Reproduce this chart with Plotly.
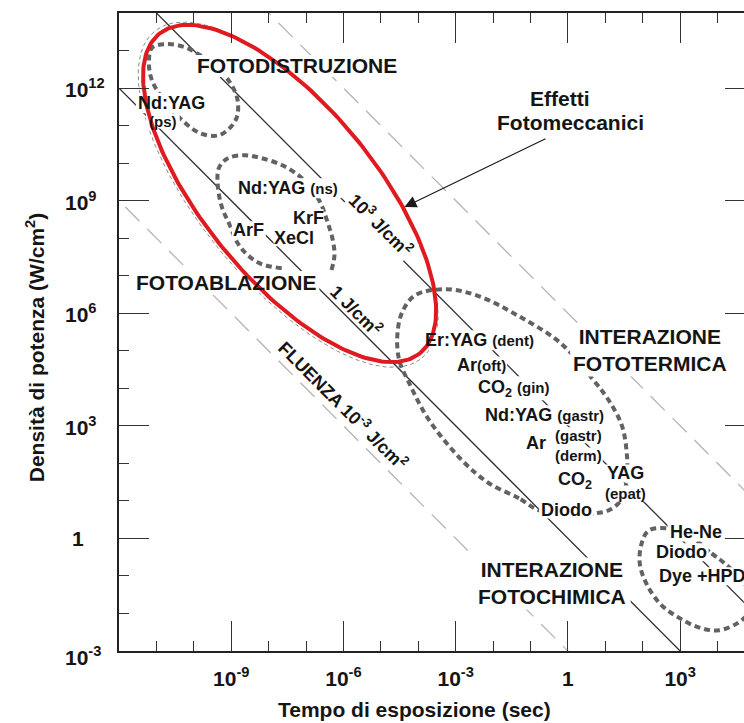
import numpy as np
import plotly.graph_objects as go

# ---------------------------------------------------------------- data
# axis extents, log10 units
T_RANGE = [-12, 5]        # exposure time (s)
P_RANGE = [-3, 14]        # power density (W/cm^2)

# iso-fluence lines  P * t = F  (J/cm^2)
FLUENCE_SOLID = [1.0, 1e3]
FLUENCE_DASHED = [1e-3, 1e6]

# tick labels
X_TICKVALS = [1e-9, 1e-6, 1e-3, 1, 1e3]
X_TICKTEXT = ["10<sup>-9</sup>", "10<sup>-6</sup>", "10<sup>-3</sup>", "1", "10<sup>3</sup>"]
Y_TICKVALS = [1e-3, 1, 1e3, 1e6, 1e9, 1e12]
Y_TICKTEXT = ["10<sup>-3</sup>", "1", "10<sup>3</sup>", "10<sup>6</sup>", "10<sup>9</sup>", "10<sup>12</sup>"]

# laser regions, outline vertices as (log10 t, log10 P)
REGION_PS = [(-10.77, 11.63), (-11.12, 12.21), (-11.20, 12.69), (-11.12, 13.07), (-10.72, 13.17),
             (-10.24, 13.09), (-9.84, 12.88), (-9.44, 12.61), (-9.04, 12.16), (-8.83, 11.68),
             (-8.88, 11.15), (-9.31, 10.75), (-9.84, 10.80), (-10.32, 11.15), (-10.77, 11.63)]
REGION_NS = [(-7.65, 7.20), (-8.19, 7.31), (-8.56, 7.55), (-8.83, 7.87), (-9.04, 8.35),
             (-9.25, 8.83), (-9.36, 9.41), (-9.33, 9.87), (-9.09, 10.13), (-8.64, 10.21),
             (-8.19, 10.13), (-7.65, 9.95), (-7.17, 9.65), (-6.83, 9.29), (-6.59, 8.89),
             (-6.43, 8.44), (-6.29, 7.97), (-6.24, 7.55), (-6.32, 7.15)]
REGION_THERMAL = [(-0.77, 0.75), (-1.31, 1.07), (-2.11, 1.47), (-2.83, 2.08), (-3.71, 3.15),
                  (-4.24, 4.13), (-4.51, 4.75), (-4.56, 5.41), (-4.43, 6.03), (-4.08, 6.48),
                  (-3.25, 6.64), (-2.37, 6.45), (-1.31, 5.92), (-0.19, 5.20), (0.64, 4.27),
                  (1.09, 3.68), (1.44, 3.01), (1.57, 2.29), (1.57, 1.55), (1.41, 1.01),
                  (1.09, 0.75), (0.75, 0.67), (0.16, 0.61), (-0.77, 0.75)]
REGION_CHEM = [(3.23, 0.08), (3.84, -0.40), (4.16, -0.64), (4.61, -1.07), (4.88, -1.52),
               (4.83, -1.97), (4.56, -2.24), (4.03, -2.45), (3.49, -2.37), (2.96, -2.11),
               (2.48, -1.76), (2.11, -1.23), (1.92, -0.67), (1.97, -0.13), (2.16, 0.21),
               (2.64, 0.27), (3.23, 0.08)]

# photomechanical zone: ellipse centre (log10 t, log10 P), semi-axes (decades), tilt (deg)
MECH_CENTER = (-7.44, 9.19)
MECH_AXES = (5.50, 2.30)
MECH_TILT = -50.6

# in-plot labels: text, log10 t, log10 P, font size, backing box w, h (px)
SM = '<span style="font-size:15px">{}</span>'
LABELS = [
    ("FOTODISTRUZIONE", -7.25, 12.59, 21, 212, 22),
    ("Nd:YAG", -10.59, 11.60, 18, 72, 20),
    ("(ps)", -10.83, 11.12, 15, 34, 15),
    ("Nd:YAG " + SM.format("(ns)"), -7.49, 9.33, 18, 108, 20),
    ("KrF", -6.93, 8.53, 18, 30, 18),
    ("ArF", -8.53, 8.21, 18, 34, 18),
    ("XeCl", -7.31, 8.00, 18, 42, 16),
    ("FOTOABLAZIONE", -9.15, 6.83, 21, 188, 22),
    ("Er:YAG " + SM.format("(dent)"), -2.37, 5.28, 18, 118, 20),
    ("Ar" + SM.format("(oft)"), -2.32, 4.61, 18, 52, 18),
    ("CO<sub>2</sub> " + SM.format("(gin)"), -1.44, 4.00, 18, 72, 24),
    ("Nd:YAG " + SM.format("(gastr)"), -0.64, 3.28, 18, 126, 20),
    ("Ar", -0.85, 2.53, 18, 24, 18),
    ("(gastr)", 0.29, 2.75, 15, 48, 16),
    ("(derm)", 0.29, 2.21, 15, 48, 16),
    ("CO<sub>2</sub>", 0.19, 1.55, 18, 36, 24),
    ("YAG", 1.55, 1.73, 18, 42, 18),
    ("(epat)", 1.55, 1.20, 15, 44, 16),
    ("Diodo", -0.05, 0.77, 18, 54, 18),
    ("INTERAZIONE<br>FOTOTERMICA", 2.19, 5.01, 21, 160, 52),
    ("INTERAZIONE<br>FOTOCHIMICA", -0.43, -1.20, 21, 158, 52),
    ("He-Ne", 3.41, 0.16, 18, 56, 18),
    ("Diodo", 3.04, -0.37, 18, 54, 18),
    ("Dye +HPD", 3.60, -1.01, 18, 90, 18),
]

# fluence labels written along the lines: text, log10 t, log10 P, white backing
FLUENCE_LABELS = [
    ("10<sup>3</sup> J/cm<sup>2</sup>", -5.01, 8.37, True),
    ("1 J/cm<sup>2</sup>", -5.65, 6.08, False),
    ("FLUENZA 10<sup>-3</sup> J/cm<sup>2</sup>", -6.00, 3.55, False),
]

# ---------------------------------------------------------------- layout constants
W, H = 760, 723
ML, MR, MT, MB = 119, 3, 13, 72
PLOT_W = W - ML - MR
PX_PER_DEC = PLOT_W / (T_RANGE[1] - T_RANGE[0])

FONT = "Liberation Sans, Arial, sans-serif"
INK = "#151515"

fig = go.Figure()

# iso-fluence lines
t_ends = np.array([10.0 ** (T_RANGE[0] - 1), 10.0 ** (T_RANGE[1] + 1)])
for F in FLUENCE_DASHED:
    fig.add_trace(go.Scatter(x=t_ends, y=F / t_ends, mode="lines",
                             line=dict(color="#b4b4b4", width=1.3, dash="20px,11px")))
for F in FLUENCE_SOLID:
    fig.add_trace(go.Scatter(x=t_ends, y=F / t_ends, mode="lines",
                             line=dict(color="#2e2e2e", width=1.3)))


def ellipse(center, axes, tilt_deg, n=240):
    s = np.linspace(0, 2 * np.pi, n)
    phi = np.radians(tilt_deg)
    u, v = axes[0] * np.cos(s), axes[1] * np.sin(s)
    lt = center[0] + u * np.cos(phi) - v * np.sin(phi)
    lp = center[1] + u * np.sin(phi) + v * np.cos(phi)
    return 10.0 ** lt, 10.0 ** lp


# faint dashed outline beneath the photomechanical zone, offset to its lower-left side
phi = np.radians(MECH_TILT)
shift = 0.05
faint_center = (MECH_CENTER[0] + shift * np.sin(phi), MECH_CENTER[1] - shift * np.cos(phi))
ex, ey = ellipse(faint_center, (MECH_AXES[0] + 0.13, MECH_AXES[1] + 0.05), MECH_TILT)
fig.add_trace(go.Scatter(x=ex, y=ey, mode="lines",
                         line=dict(color="#8a8a8a", width=1, dash="4px,3px")))

# dotted laser regions
for region in (REGION_PS, REGION_NS, REGION_THERMAL, REGION_CHEM):
    lt, lp = zip(*region)
    fig.add_trace(go.Scatter(x=10.0 ** np.array(lt), y=10.0 ** np.array(lp), mode="lines",
                             line=dict(color="#626262", width=4, dash="6px,4px",
                                       shape="spline", smoothing=1.0)))

# white backing under the labels (interrupts the lines behind the text)
bx, by = [], []
for _, lt, lp, _, bw, bh in LABELS:
    dx, dy = bw / 2 / PX_PER_DEC, bh / 2 / PX_PER_DEC
    bx += [10 ** (lt - dx), 10 ** (lt + dx), 10 ** (lt + dx), 10 ** (lt - dx), 10 ** (lt - dx), None]
    by += [10 ** (lp - dy), 10 ** (lp - dy), 10 ** (lp + dy), 10 ** (lp + dy), 10 ** (lp - dy), None]
fig.add_trace(go.Scatter(x=bx, y=by, mode="lines", fill="toself", fillcolor="white",
                         line=dict(width=0, color="white"), connectgaps=False))

# photomechanical zone (red outline)
rx, ry = ellipse(MECH_CENTER, MECH_AXES, MECH_TILT)
fig.add_trace(go.Scatter(x=rx, y=ry, mode="lines", line=dict(color="#e01b1f", width=4)))

annotations = []

# region and laser labels
for txt, lt, lp, size, _, _ in LABELS:
    annotations.append(dict(
        x=lt, y=lp, xref="x", yref="y", text=txt, showarrow=False,
        xanchor="center", yanchor="middle",
        font=dict(family=FONT, size=size, color=INK, weight="bold")))

for txt, lt, lp, backed in FLUENCE_LABELS:
    annotations.append(dict(
        x=lt, y=lp, xref="x", yref="y", text=txt, showarrow=False, textangle=45,
        font=dict(family=FONT, size=18, color=INK, weight="bold"),
        bgcolor="white" if backed else "rgba(0,0,0,0)", borderpad=1))

annotations += [
    dict(x=-0.21, y=11.73, xref="x", yref="y", text="Effetti", showarrow=False,
         font=dict(family=FONT, size=21, color=INK, weight="bold")),
    dict(x=0.08, y=11.09, xref="x", yref="y", text="Fotomeccanici", showarrow=False,
         font=dict(family=FONT, size=21, color=INK, weight="bold")),
    dict(x=-4.37, y=8.83, xref="x", yref="y", ax=-0.56, ay=10.67, axref="x", ayref="y",
         text="", showarrow=True, arrowhead=2, arrowsize=2, arrowwidth=1.2, arrowcolor="#1a1a1a"),
]

# y tick labels, left aligned
for v, txt in zip(Y_TICKVALS, Y_TICKTEXT):
    plain = v == 1
    annotations.append(dict(
        x=(70 - ML) / PLOT_W if plain else (63 - ML) / PLOT_W, xref="paper",
        y=np.log10(v), yref="y", text=txt, showarrow=False,
        xanchor="left", yanchor="middle", yshift=-5 if v == Y_TICKVALS[0] else 0,
        font=dict(family=FONT, size=21, color=INK, weight="bold")))

# axis titles
annotations += [
    dict(x=(415 - ML) / PLOT_W, y=-(709 - (H - MB)) / (H - MT - MB), xref="paper", yref="paper",
         text="Tempo di esposizione (sec)", showarrow=False, xanchor="center", yanchor="middle",
         font=dict(family=FONT, size=21, color=INK, weight="bold")),
    dict(x=(35 - ML) / PLOT_W, y=((H - MB) - 347) / (H - MT - MB), xref="paper", yref="paper",
         text="Densità di potenza (W/cm<sup>2</sup>)", showarrow=False, textangle=-90,
         xanchor="center", yanchor="middle",
         font=dict(family=FONT, size=21, color=INK, weight="bold")),
]

minor_x = [10.0 ** k for k in range(T_RANGE[0] + 1, T_RANGE[1]) if k % 3 != 0]
minor_y = [10.0 ** k for k in range(P_RANGE[0] + 1, P_RANGE[1]) if k % 3 != 0]

axis_common = dict(type="log", showgrid=False, zeroline=False, showline=True,
                   linecolor="#222", linewidth=2, mirror="ticks",
                   ticks="inside", ticklen=30, tickwidth=1.3, tickcolor="#333")

fig.update_layout(
    width=W, height=H, margin=dict(l=ML, r=MR, t=MT, b=MB),
    paper_bgcolor="white", plot_bgcolor="white", showlegend=False, hovermode=False,
    xaxis=dict(range=T_RANGE, tickmode="array", tickvals=X_TICKVALS, ticktext=X_TICKTEXT,
               ticklabelstandoff=8,
               tickfont=dict(family=FONT, size=21, color=INK, weight="bold"),
               minor=dict(tickmode="array", tickvals=minor_x, ticks="inside", ticklen=10,
                          tickwidth=1.3, tickcolor="#333"),
               **axis_common),
    yaxis=dict(range=P_RANGE, tickmode="array", tickvals=Y_TICKVALS, showticklabels=False,
               minor=dict(tickmode="array", tickvals=minor_y, ticks="inside", ticklen=10,
                          tickwidth=1.3, tickcolor="#333"),
               **axis_common),
    annotations=annotations,
)

fig.write_html(
    "out.html",
    config={"displayModeBar": False},
    post_script="document.documentElement.style.overflow='hidden';"
                "document.body.style.overflow='hidden';document.body.style.margin='0';",
)
